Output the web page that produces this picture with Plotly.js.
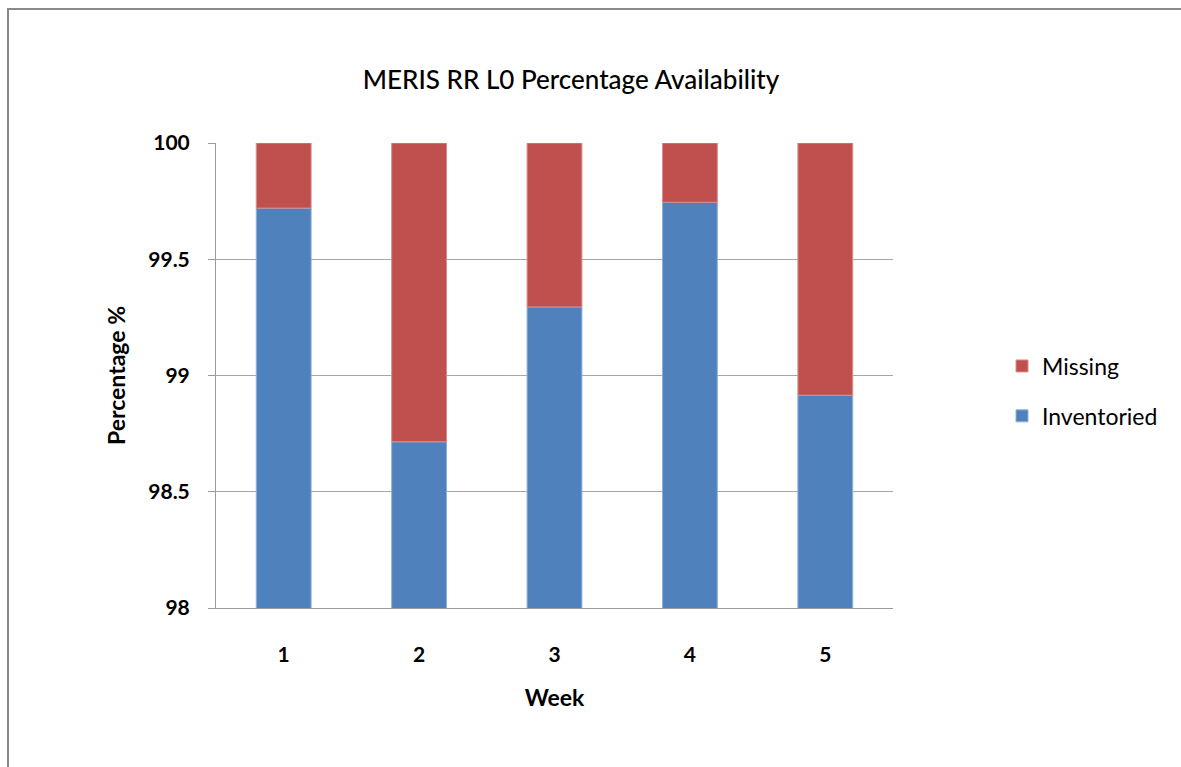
<!DOCTYPE html>
<html>
<head>
<meta charset="utf-8">
<script src="https://cdn.plot.ly/plotly-3.0.1.min.js"></script>
<style>
html,body{margin:0;padding:0;background:#fff;}
#chart{width:1181px;height:767px;}
#frame{position:absolute;left:7px;top:8px;width:1180px;height:770px;border-left:2px solid #8a8a8a;border-top:2px solid #8a8a8a;pointer-events:none;}
</style>
</head>
<body>
<div id="chart"></div>
<div id="frame"></div>
<script>
const weeks = ['1', '2', '3', '4', '5'];
const inventoried = [99.72, 98.715, 99.295, 99.745, 98.915];
const missing = [0.28, 1.285, 0.705, 0.255, 1.085];
const yTicks = [98, 98.5, 99, 99.5, 100];
const yTickText = ['98', '98.5', '99', '99.5', '100'];

const font = 'Lato, "Open Sans", sans-serif';

const traces = [
  {type: 'bar', name: 'Inventoried', x: weeks, y: inventoried, legendgroup: 'inv', legendrank: 2,
   marker: {color: '#4F81BD', line: {color: '#8fb0dc', width: 1}}},
  {type: 'bar', name: 'Missing', x: weeks, y: missing, base: inventoried, legendgroup: 'mis', legendrank: 1,
   marker: {color: '#C0504D', line: {color: '#dc8e8c', width: 1}}}
];

const layout = {
  width: 1181, height: 767,
  paper_bgcolor: '#fff', plot_bgcolor: '#fff',
  margin: {l: 216, r: 288, t: 143, b: 159},
  barmode: 'overlay',
  bargap: 0.595,
  font: {family: font, color: '#000'},
  title: {text: 'MERIS RR L0 Percentage Availability', x: 571/1181, xref: 'container', xanchor: 'center',
          y: 1 - 80/767, yref: 'container', yanchor: 'middle',
          font: {family: font, size: 26, color: '#000', weight: 500}},
  xaxis: {type: 'category', showline: true, linecolor: '#9a9a9a', linewidth: 1,
          ticks: '', showgrid: false, tickfont: {size: 21, family: font, weight: 'bold'},
          ticklabelstandoff: 28,
          title: {text: 'Week', font: {size: 23, family: font, weight: 'bold'}, standoff: 24}},
  yaxis: {range: [98, 100], tickvals: yTicks, ticktext: yTickText, showline: true,
          linecolor: '#9a9a9a', linewidth: 1, ticks: 'outside', ticklen: 7, tickcolor: '#9a9a9a',
          showgrid: true, gridcolor: '#a6a6a6', gridwidth: 1, zeroline: false,
          tickfont: {size: 21, family: font, weight: 'bold'}, ticklabelstandoff: 14,
          title: {text: 'Percentage %', font: {size: 23, family: font, weight: 'bold'}, standoff: 16}},
  legend: {x: 1002/1181, xref: 'container', y: 1 - 391/767, yref: 'container', yanchor: 'middle', xanchor: 'left',
           traceorder: 'grouped', font: {size: 23, family: font}, tracegroupgap: 17,
           bgcolor: 'rgba(0,0,0,0)'},
  showlegend: true
};

Plotly.newPlot('chart', traces, layout, {displayModeBar: false, staticPlot: true});
</script>
</body>
</html>
